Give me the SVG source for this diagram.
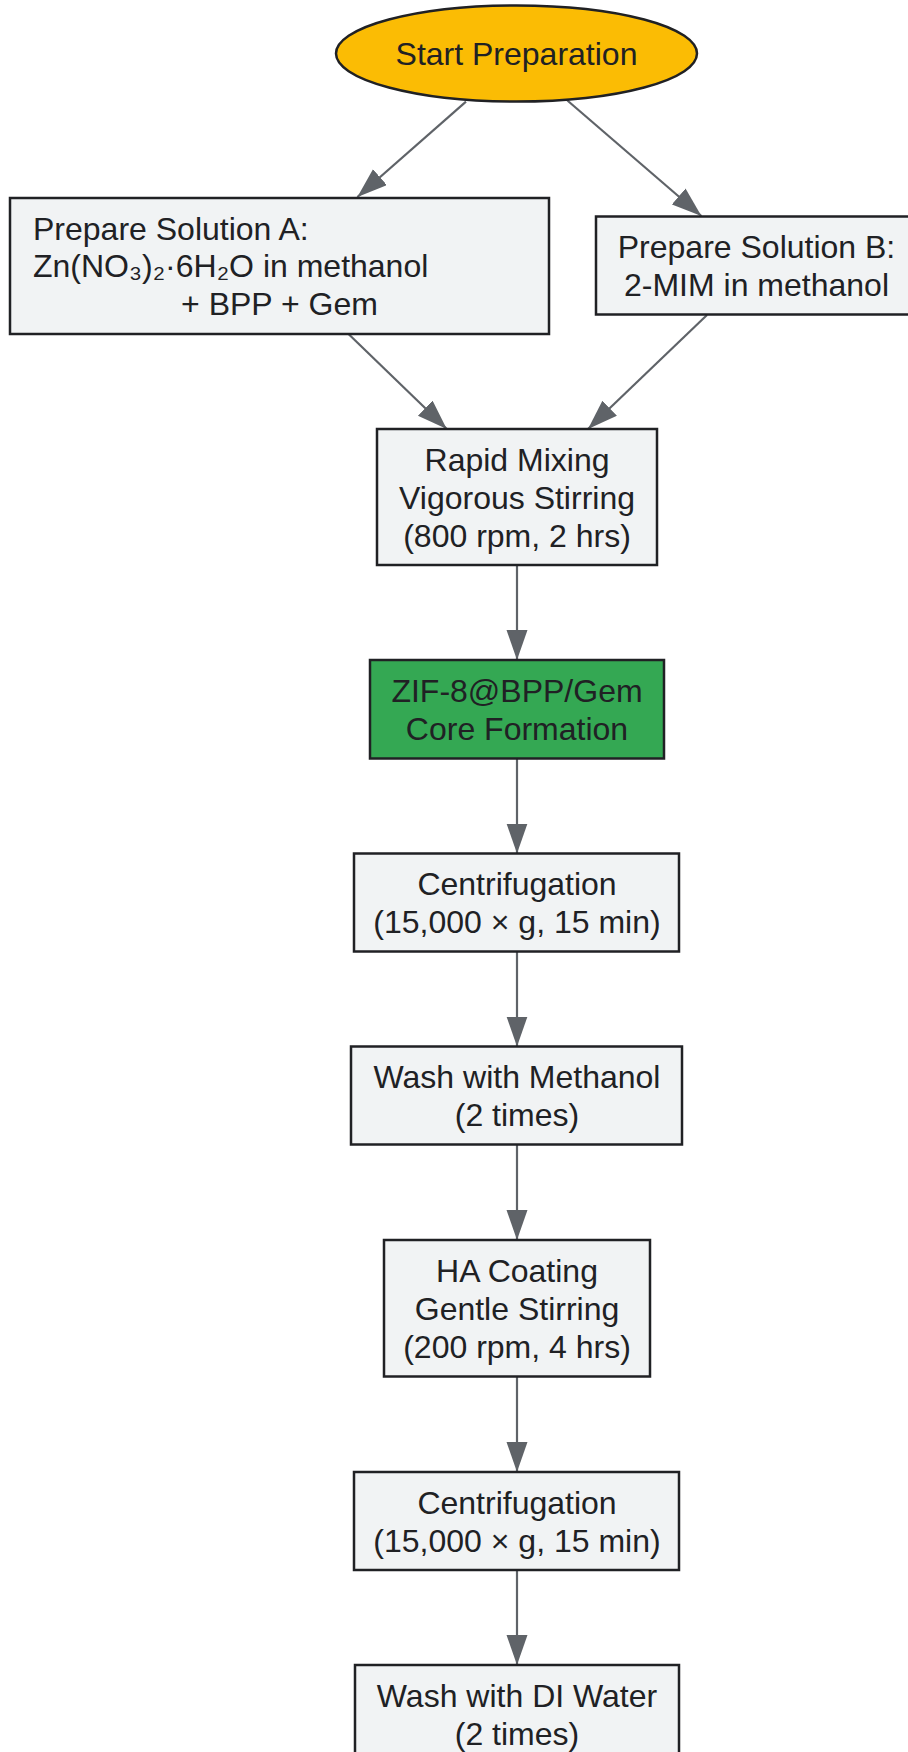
<svg xmlns="http://www.w3.org/2000/svg" width="908" height="1752" viewBox="0 0 908 1752">
<defs>
<style>
.box{fill:#F1F3F4;stroke:#202124;stroke-width:2.5}
.green{fill:#34A853;stroke:#202124;stroke-width:2.5}
.start{fill:#FBBC04;stroke:#202124;stroke-width:2.5}
text{font-family:"Liberation Sans","DejaVu Sans",Arial,sans-serif;font-size:32px;fill:#202124}
.c{text-anchor:middle}
.edge{stroke:#5F6368;stroke-width:2.2;fill:none;marker-end:url(#arr)}
</style>
<marker id="arr" markerUnits="userSpaceOnUse" markerWidth="30" markerHeight="22" refX="30" refY="10.5" orient="auto">
<path d="M0,0 L30,10.5 L0,21 z" fill="#5F6368"/>
</marker>
</defs>
<rect width="908" height="1752" fill="#FFFFFF"/>
<g id="connectors">
<line class="edge" x1="466" y1="101.6" x2="357.4" y2="197"/>
<line class="edge" x1="567.4" y1="100.5" x2="701.4" y2="216"/>
<line class="edge" x1="348.5" y1="334" x2="446.8" y2="429"/>
<line class="edge" x1="707" y1="315" x2="588" y2="429"/>
<line class="edge" x1="517" y1="565" x2="517" y2="660"/>
<line class="edge" x1="517" y1="758.5" x2="517" y2="853.5"/>
<line class="edge" x1="517" y1="951.5" x2="517" y2="1046.5"/>
<line class="edge" x1="517" y1="1144.5" x2="517" y2="1240"/>
<line class="edge" x1="517" y1="1376.5" x2="517" y2="1472"/>
<line class="edge" x1="517" y1="1570" x2="517" y2="1665"/>
</g>
<g id="start">
<ellipse class="start" cx="516.5" cy="53.5" rx="180.5" ry="48"/>
<text class="c" x="516.5" y="65">Start Preparation</text>
</g>
<g id="solA">
<rect class="box" x="10" y="198" width="539" height="136"/>
<text x="33" y="239.5">Prepare Solution A:</text>
<text x="33" y="277">Zn(NO₃)₂·6H₂O in methanol</text>
<text class="c" x="279.5" y="314.5">+ BPP + Gem</text>
</g>
<g id="solB">
<rect class="box" x="596" y="216.5" width="321" height="98"/>
<text class="c" x="756.5" y="257.5">Prepare Solution B:</text>
<text class="c" x="756.5" y="295.5">2-MIM in methanol</text>
</g>
<g id="mixing">
<rect class="box" x="377" y="429" width="280" height="136"/>
<text class="c" x="517" y="471">Rapid Mixing</text>
<text class="c" x="517" y="509">Vigorous Stirring</text>
<text class="c" x="517" y="546.5">(800 rpm, 2 hrs)</text>
</g>
<g id="core">
<rect class="green" x="370" y="660" width="294" height="98.5"/>
<text class="c" x="517" y="701.5">ZIF-8@BPP/Gem</text>
<text class="c" x="517" y="739.5">Core Formation</text>
</g>
<g id="centrifuge1">
<rect class="box" x="354" y="853.5" width="325" height="98"/>
<text class="c" x="517" y="895">Centrifugation</text>
<text class="c" x="517" y="933">(15,000 × g, 15 min)</text>
</g>
<g id="washMeOH">
<rect class="box" x="351" y="1046.5" width="331" height="98"/>
<text class="c" x="517" y="1088">Wash with Methanol</text>
<text class="c" x="517" y="1126">(2 times)</text>
</g>
<g id="haCoating">
<rect class="box" x="384" y="1240" width="266" height="136.5"/>
<text class="c" x="517" y="1282">HA Coating</text>
<text class="c" x="517" y="1320">Gentle Stirring</text>
<text class="c" x="517" y="1357.5">(200 rpm, 4 hrs)</text>
</g>
<g id="centrifuge2">
<rect class="box" x="354" y="1472" width="325" height="98"/>
<text class="c" x="517" y="1513.5">Centrifugation</text>
<text class="c" x="517" y="1551.5">(15,000 × g, 15 min)</text>
</g>
<g id="washDI">
<rect class="box" x="355" y="1665" width="324" height="98"/>
<text class="c" x="517" y="1706.5">Wash with DI Water</text>
<text class="c" x="517" y="1744.5">(2 times)</text>
</g>
</svg>
